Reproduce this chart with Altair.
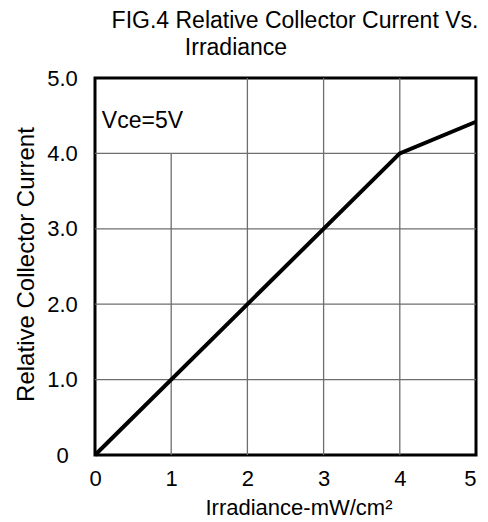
import altair as alt
import pandas as pd

# data
irradiance = [0, 4, 5]
rel_current = [0, 4, 4.42]

x_ticks = [0, 1, 2, 3, 4, 5]
y_ticks = [0, 1, 2, 3, 4, 5]

vgrid_x = [1, 2, 3, 4]
vgrid_y0 = [0, 0, 0, 0]
vgrid_y1 = [4, 5, 5, 5]

hgrid_y = [1, 2, 3, 4]
hgrid_x0 = [0, 0, 0, 0]
hgrid_x1 = [5, 5, 5, 5]

title_line1 = "FIG.4 Relative Collector Current Vs."
title_line2 = "Irradiance"
note_text = ["Vce=5V"]
note_x = [0.09]
note_y = [4.34]

FONT = "Liberation Sans, Arial"
FS = 22

xscale = alt.Scale(domain=[0, 5], nice=False, zero=False)
yscale = alt.Scale(domain=[0, 5], nice=False, zero=False)

xaxis = alt.Axis(
    values=x_ticks,
    format="d",
    title="Irradiance-mW/cm²",
    titleX=110,
    titleY=59,
    titleAlign="left",
    titleBaseline="alphabetic",
    labelBaseline="alphabetic",
    labelPadding=30,
    labelAlign={"condition": {"test": "datum.value == 5", "value": "right"}, "value": "center"},
    labelFlush=False,
)
yaxis = alt.Axis(
    values=y_ticks,
    labelExpr="datum.value == 0 ? '0' : format(datum.value, '.1f')",
    title="Relative Collector Current",
    titleX=-62,
    titleY=186,
    titleAngle=270,
    titleAlign="center",
    titleBaseline="alphabetic",
    titleFontSize=24,
    labelAlign="center",
    labelBaseline="middle",
    labelPadding=33,
    labelFlush=False,
)

line_df = pd.DataFrame({"x": irradiance, "y": rel_current})
vg_df = pd.DataFrame({"x": vgrid_x, "y0": vgrid_y0, "y1": vgrid_y1})
hg_df = pd.DataFrame({"y": hgrid_y, "x0": hgrid_x0, "x1": hgrid_x1})
note_df = pd.DataFrame({"x": note_x, "y": note_y, "t": note_text})

vgrid = alt.Chart(vg_df).mark_rule(color="#6e6e6e", strokeWidth=1.3).encode(
    x=alt.X("x:Q", scale=xscale, axis=xaxis),
    y=alt.Y("y0:Q", scale=yscale, axis=yaxis),
    y2="y1:Q",
)
hgrid = alt.Chart(hg_df).mark_rule(color="#6e6e6e", strokeWidth=1.3).encode(
    y=alt.Y("y:Q", scale=yscale, axis=yaxis),
    x=alt.X("x0:Q", scale=xscale, axis=xaxis),
    x2="x1:Q",
)

line = alt.Chart(line_df).mark_line(color="black", strokeWidth=4).encode(
    x=alt.X("x:Q", scale=xscale, axis=xaxis),
    y=alt.Y("y:Q", scale=yscale, axis=yaxis),
)

note = alt.Chart(note_df).mark_text(
    font=FONT, fontSize=FS + 1, align="left", baseline="alphabetic", color="black"
).encode(
    x=alt.X("x:Q", scale=xscale, axis=xaxis),
    y=alt.Y("y:Q", scale=yscale, axis=yaxis),
    text="t:N",
)

t1 = alt.Chart(pd.DataFrame({"t": [title_line1]})).mark_text(
    font=FONT, fontSize=23, align="center", baseline="alphabetic", color="black"
).encode(x=alt.value(200), y=alt.value(-50), text="t:N")
t2 = alt.Chart(pd.DataFrame({"t": [title_line2]})).mark_text(
    font=FONT, fontSize=23, align="center", baseline="alphabetic", color="black"
).encode(x=alt.value(141), y=alt.value(-23), text="t:N")

chart = (
    alt.layer(vgrid, hgrid, line, note, t1, t2)
    .properties(
        width=381,
        height=377,
        autosize=alt.AutoSizeParams(type="none"),
        padding={"left": 87, "top": 70, "right": 4, "bottom": 66},
        background="white",
    )
    .configure_view(stroke="black", strokeWidth=3)
    .configure_axis(
        domain=False,
        ticks=False,
        tickSize=0,
        grid=False,
        labelFont=FONT,
        labelFontSize=FS,
        labelColor="black",
        titleFont=FONT,
        titleFontSize=FS,
        titleFontWeight="normal",
        titleColor="black",
    )
)

chart.save("out.html", embed_options={"renderer": "svg", "actions": False})
